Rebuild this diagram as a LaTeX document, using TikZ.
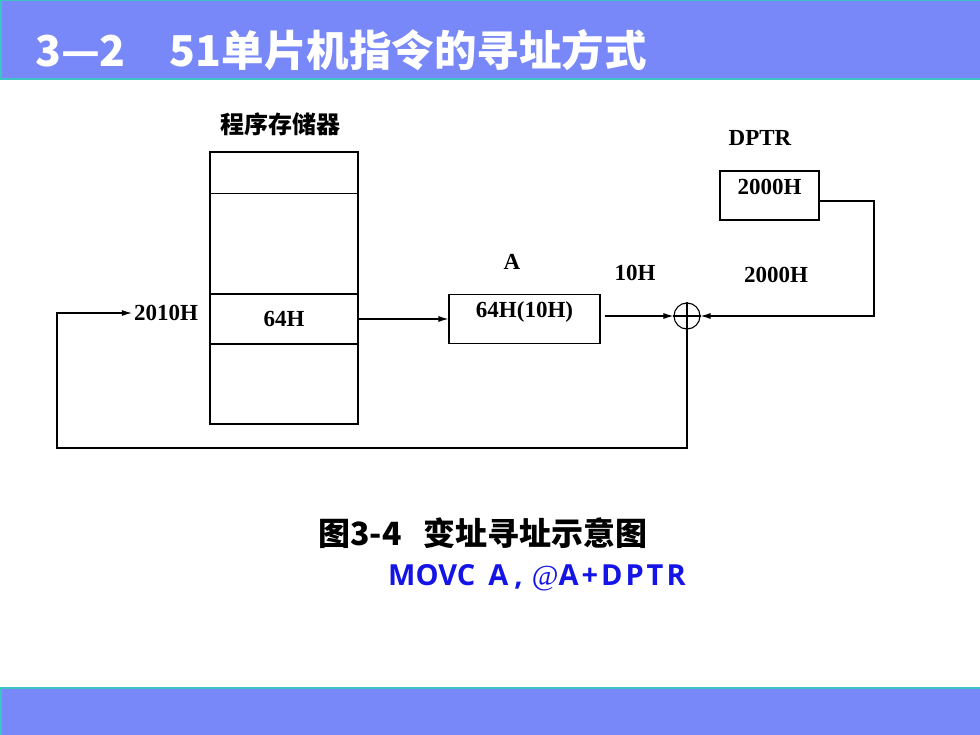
\documentclass[tikz,border=0pt]{standalone}
\usepackage{fontspec}
\setmainfont{Liberation Serif}
\newfontfamily\cjk{Noto Sans CJK SC}
\newfontfamily\latinsans{Open Sans}
\usetikzlibrary{arrows.meta}

\definecolor{bandblue}{HTML}{7888F8}
\definecolor{bandedge}{HTML}{3CC4C4}
\definecolor{cmdblue}{HTML}{1414E6}

\newcommand{\gap}{\hspace{3pt}}

\tikzstyle{reg}=[rectangle, draw=black, line width=1.1pt, inner sep=0pt, font=\bfseries\fontsize{23}{23}\selectfont]
\tikzstyle{regtop}=[reg, text height=16pt, text depth=18pt]
\tikzstyle{lbl}=[inner sep=0pt, font=\bfseries\fontsize{23}{23}\selectfont]
\tikzstyle{feed}=[{Latex[length=10pt,width=6pt]}-, line width=1.1pt]
\tikzstyle{flow}=[-{Latex[length=10pt,width=6pt]}, line width=1.1pt]

\begin{document}
\begin{tikzpicture}[x=1pt, y=-1pt]
    \useasboundingbox (0,0) rectangle (980,735);

    % bands
    \fill[bandblue] (0,0) rectangle (980,80);
    \draw[bandedge, line width=1.5pt] (980,0.75) -- (0.75,0.75) -- (0.75,79.25) -- (980,79.25);
    \node[anchor=west, inner sep=0pt, text=white, font=\cjk\bfseries\fontsize{42.5}{42.5}\selectfont] (title) at (35,50) {3—2\hspace{44pt}51单片机指令的寻址方式};
    \fill[bandblue] (0,687) rectangle (980,735);
    \draw[bandedge, line width=1.5pt] (0.75,735) -- (0.75,687.75) -- (980,687.75);

    % program memory
    \node[lbl, font=\cjk\bfseries\fontsize{24}{24}\selectfont] (memname) at (280,124) {程序存储器};
    \node[reg, minimum width=148pt, minimum height=272pt] (mem) at (284,288) {};
    \draw[line width=1.1pt] ([yshift=-42pt]mem.north west) -- ([yshift=-42pt]mem.north east);
    \node[reg, minimum width=148pt, minimum height=50pt] (cell64) at (284,319) {64H};
    \node[lbl] (addr) at (166,313) {2010H};

    % accumulator
    \node[lbl] (accname) at (512,262) {A};
    \node[regtop, minimum width=151pt, minimum height=49pt] (acc) at (524.5,319) {64H(10H)}
    edge[feed] (cell64);

    % DPTR
    \node[lbl] (dptrname) at (760,138) {DPTR};
    \node[regtop, minimum width=99pt, minimum height=49pt] (dptr) at (769.5,195.5) {2000H};

    % adder
    \node[circle, draw=black, line width=1.1pt, minimum size=26pt, inner sep=0pt] (sum) at (687,316) {};
    \draw[line width=1.1pt] (sum.north) -- (sum.south) (sum.west) -- (sum.east);
    \node[lbl] (offs) at (635,273) {10H};
    \node[lbl] (base) at (776,275) {2000H};

    \coordinate (dpcorner) at (874,201);
    \coordinate (loop) at (57,448);

    \draw[flow] ([xshift=4pt]acc.east |- sum) -- (sum.west);
    \draw[flow] (dptr.east |- dpcorner) -- (dpcorner) |- (sum.east);
    \draw[flow] (sum.south) |- (loop) |- ([xshift=-2pt]addr.west);

    % caption
    \node[inner sep=0pt, font=\cjk\bfseries\fontsize{32}{32}\selectfont] (caption) at (483,533) {图3-4\hspace{22pt}变址寻址示意图};
    \node[anchor=west, inner sep=0pt, text=cmdblue, font=\latinsans\bfseries\fontsize{29}{29}\selectfont] (instr) at (388,578) {MOVC\hspace{13pt}A\hspace{6pt},\hspace{9pt}{\rmfamily\mdseries @}A\gap+\gap D\gap P\gap T\gap R};
\end{tikzpicture}
\end{document}
